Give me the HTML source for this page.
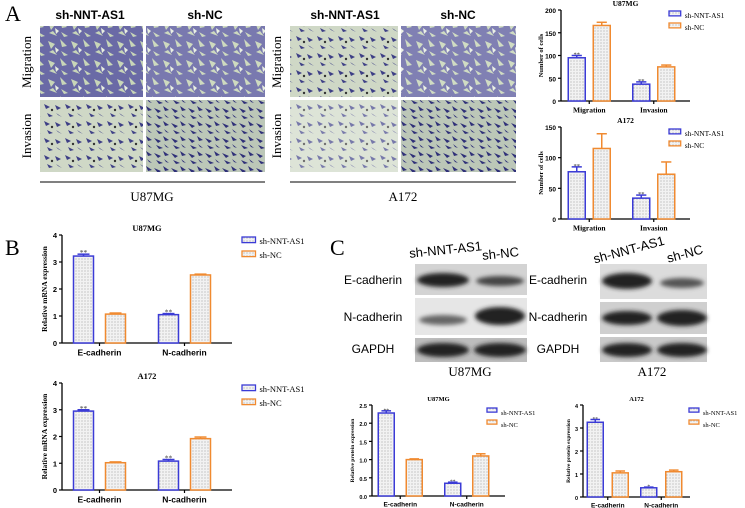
<!DOCTYPE html>
<html><head><meta charset="utf-8"><style>
body{margin:0;background:#fff;}
#root{position:relative;width:745px;height:508px;overflow:hidden;font-family:"Liberation Serif",serif;}
svg{position:absolute;left:0;top:0;}
</style></head><body>
<div id="root">
<svg id="fig" width="745" height="508" viewBox="0 0 745 508">
<defs>
<pattern id="dots" width="3" height="3" patternUnits="userSpaceOnUse"><rect width="3" height="3" fill="#f2f2f2"/><circle cx="1" cy="1" r="0.6" fill="#aaa"/></pattern>
<pattern id="migr" width="23" height="19" patternUnits="userSpaceOnUse"><rect width="23" height="19" fill="#6a6aa6"/><path d="M2 3 L9 6 L5 11 Z M14 1 L21 8 L16 9 Z M3 14 L11 17 L7 12 Z M15 13 L22 17 L18 18 Z" fill="#c8d6b8"/><path d="M9 9 L13 12 L10 15Z" fill="#e7eee0"/></pattern>
<pattern id="invas" width="21" height="17" patternUnits="userSpaceOnUse"><rect width="21" height="17" fill="#cfd8c6"/><path d="M2 2 L8 5 L4 7Z M13 3 L19 6 L15 8Z M5 11 L11 14 L7 15Z M14 11 L20 15 L16 13Z" fill="#3d3f86"/><circle cx="10" cy="8" r="1.2" fill="#333"/></pattern>
<pattern id="invas2" width="17" height="15" patternUnits="userSpaceOnUse"><rect width="17" height="15" fill="#bcc7b8"/><path d="M1 3 L8 6 L5 8Z M10 1 L16 5 L12 6Z M3 10 L10 13 L6 14Z M11 9 L16 13 L13 12Z" fill="#2f3078"/></pattern>
<filter id="blur"><feGaussianBlur stdDeviation="2"/></filter>
</defs>
<g id="panelA-images">
<text x="5" y="21" font-size="22">A</text>
<text x="90" y="19" font-size="12" font-weight="bold" text-anchor="middle" font-family="Liberation Sans, sans-serif">sh-NNT-AS1</text>
<text x="205" y="19" font-size="12" font-weight="bold" text-anchor="middle" font-family="Liberation Sans, sans-serif">sh-NC</text>
<text x="345" y="19" font-size="12" font-weight="bold" text-anchor="middle" font-family="Liberation Sans, sans-serif">sh-NNT-AS1</text>
<text x="458" y="19" font-size="12" font-weight="bold" text-anchor="middle" font-family="Liberation Sans, sans-serif">sh-NC</text>
<text transform="translate(31,62) rotate(-90)" font-size="13" text-anchor="middle">Migration</text>
<text transform="translate(31,136) rotate(-90)" font-size="13" text-anchor="middle">Invasion</text>
<text transform="translate(281,62) rotate(-90)" font-size="13" text-anchor="middle">Migration</text>
<text transform="translate(281,136) rotate(-90)" font-size="13" text-anchor="middle">Invasion</text>
<rect x="40" y="26" width="103" height="71" fill="url(#migr)"/>
<rect x="146" y="26" width="119" height="71" fill="url(#migr)" opacity="0.9"/>
<rect x="40" y="100" width="103" height="72" fill="url(#invas)"/>
<rect x="146" y="100" width="119" height="72" fill="url(#invas2)"/>
<rect x="290" y="26" width="108" height="71" fill="url(#invas)"/>
<rect x="401" y="26" width="115" height="71" fill="url(#migr)" opacity="0.85"/>
<rect x="290" y="100" width="108" height="72" fill="url(#invas)" opacity="0.7"/>
<rect x="401" y="100" width="115" height="72" fill="url(#invas2)"/>
<line x1="40" y1="182" x2="265" y2="182" stroke="#000"/>
<line x1="290" y1="182" x2="516" y2="182" stroke="#000"/>
<text x="152" y="201" font-size="13" text-anchor="middle">U87MG</text>
<text x="403" y="201" font-size="13" text-anchor="middle">A172</text>
</g>
<g id="panelC-blots">
<text x="5" y="255" font-size="22">B</text>
<text x="330" y="255" font-size="22">C</text>
<text transform="translate(446,254) rotate(-6)" font-size="13" text-anchor="middle" font-family="Liberation Sans, sans-serif">sh-NNT-AS1</text>
<text transform="translate(501,258) rotate(-6)" font-size="13" text-anchor="middle" font-family="Liberation Sans, sans-serif">sh-NC</text>
<text transform="translate(630,254) rotate(-15)" font-size="13" text-anchor="middle" font-family="Liberation Sans, sans-serif">sh-NNT-AS1</text>
<text transform="translate(686,258) rotate(-15)" font-size="13" text-anchor="middle" font-family="Liberation Sans, sans-serif">sh-NC</text>
<g font-size="12" text-anchor="middle" font-family="Liberation Sans, sans-serif">
<text x="373" y="284">E-cadherin</text>
<text x="373" y="321">N-cadherin</text>
<text x="373" y="353">GAPDH</text>
<text x="558" y="284">E-cadherin</text>
<text x="558" y="321">N-cadherin</text>
<text x="558" y="353">GAPDH</text>
</g>
<rect x="415" y="264" width="112" height="31" fill="#d3d3d3"/>
<rect x="415" y="298" width="112" height="37" fill="#e6e6e6"/>
<rect x="415" y="338" width="112" height="24" fill="#bdbdbd"/>
<rect x="600" y="264" width="107" height="35" fill="#dcdcdc"/>
<rect x="600" y="302" width="107" height="32" fill="#cfcfcf"/>
<rect x="600" y="337" width="107" height="25" fill="#c9c9c9"/>
<g filter="url(#blur)" fill="#222">
<ellipse cx="443" cy="280" rx="26" ry="7"/><ellipse cx="500" cy="281" rx="24" ry="5" fill="#444"/>
<ellipse cx="443" cy="320" rx="24" ry="5" fill="#666"/><ellipse cx="500" cy="316" rx="25" ry="9"/>
<ellipse cx="443" cy="350" rx="26" ry="7"/><ellipse cx="500" cy="350" rx="26" ry="7"/>
<ellipse cx="627" cy="281" rx="25" ry="8"/><ellipse cx="682" cy="283" rx="22" ry="5" fill="#555"/>
<ellipse cx="627" cy="318" rx="25" ry="7"/><ellipse cx="682" cy="318" rx="25" ry="8"/>
<ellipse cx="627" cy="350" rx="25" ry="7"/><ellipse cx="682" cy="350" rx="25" ry="7"/>
</g>
<text x="470" y="376" font-size="13" text-anchor="middle">U87MG</text>
<text x="652" y="376" font-size="13" text-anchor="middle">A172</text>
</g>
<g id="charts"></g>
</svg>
</div>
<script>
// ---- data ----
const catsA = ["Migration","Invasion"];
const catsB = ["E-cadherin","N-cadherin"];
const seriesNames = ["sh-NNT-AS1","sh-NC"];
const a1Nnt = [95, 37], a1Nc = [166, 75], a1NntErr = [5, 5], a1NcErr = [7, 4];
const a2Nnt = [77, 34], a2Nc = [115, 73], a2NntErr = [8, 5], a2NcErr = [24, 20];
const b1Nnt = [3.22, 1.05], b1Nc = [1.07, 2.52], b1NntErr = [0.07, 0.04], b1NcErr = [0.04, 0.03];
const b2Nnt = [2.95, 1.08], b2Nc = [1.02, 1.92], b2NntErr = [0.05, 0.06], b2NcErr = [0.03, 0.06];
const c1Nnt = [2.28, 0.35], c1Nc = [1.0, 1.1], c1NntErr = [0.06, 0.03], c1NcErr = [0.02, 0.06];
const c2Nnt = [3.25, 0.4], c2Nc = [1.05, 1.1], c2NntErr = [0.12, 0.03], c2NcErr = [0.08, 0.07];
const a1Sig = ["**","**"], a2Sig = ["**","**"], b1Sig = ["**","**"], b2Sig = ["**","**"], c1Sig = ["**","**"], c2Sig = ["*".repeat(2),"*"];
const ticksA1 = [0,50,100,150,200], ticksA2 = [0,50,100,150], ticks4 = [0,1,2,3,4], ticksC1 = [0,0.5,1.0,1.5,2.0,2.5];
const ticksC1Labels = ["0.0","0.5","1.0","1.5","2.0","2.5"];

const NS = "http://www.w3.org/2000/svg";
const root = document.getElementById("charts");
function el(tag, attrs, parent, txt){
  const e = document.createElementNS(NS, tag);
  for (const k in attrs) e.setAttribute(k, attrs[k]);
  if (txt !== undefined) e.textContent = txt;
  (parent || root).appendChild(e);
  return e;
}
const BLUE = "#3b3bd6", ORANGE = "#f08a30";
function chart(id, c){
  const g = el("g", {});
  
  
  const maxV = c.ticks[c.ticks.length-1];
  const y = v => c.yb - (v / maxV) * (c.yb - c.yt);
  const gw = (c.xe - c.x0) / c.cats.length;
  // title
  const t = el("text", {x: c.x0 + (c.xe - c.x0)/2, y: c.yt - 4, "font-size": c.fs + 1, "font-weight": "bold", "text-anchor": "middle"}, g, c.title);
  
  
  // y axis
  const ax = el("line", {x1: c.x0, y1: c.yt, x2: c.x0, y2: c.yb, stroke: "#000", "stroke-width": 1.3}, g);
  
  
  const xa = el("line", {x1: c.x0, y1: c.yb, x2: c.xe, y2: c.yb, stroke: "#000", "stroke-width": 1.3}, g);
  
  
  c.ticks.forEach((tv, i) => {
    el("line", {x1: c.x0 - 3, y1: y(tv), x2: c.x0, y2: y(tv), stroke: "#000", "stroke-width": 1.2}, g);
    const tl = el("text", {x: c.x0 - 5, y: y(tv) + 3, "font-size": c.fs, "font-weight": "bold", "text-anchor": "end", "font-family": "Liberation Sans, sans-serif"}, g, c.tickLabels ? c.tickLabels[i] : String(tv));
    
    
  });
  const yt = el("text", {transform: `translate(${c.x0 - c.ytOff},${(c.yt + c.yb)/2}) rotate(-90)`, "font-size": c.fs, "font-weight": "bold", "text-anchor": "middle"}, g, c.ytitle);
  
  
  const series = [[c.s1, c.e1, BLUE], [c.s2, c.e2, ORANGE]];
  c.cats.forEach((cat, i) => {
    const cx = c.x0 + gw * (i + 0.5) + c.shift;
    el("line", {x1: cx, y1: c.yb, x2: cx, y2: c.yb + 3, stroke: "#000", "stroke-width": 1.2}, g);
    const xl = el("text", {x: cx, y: c.yb + c.fs + 5, "font-size": c.fs + 1, "font-weight": "bold", "text-anchor": "middle", "font-family": c.xfont}, g, cat);
    
    
    series.forEach((s, j) => {
      const bx = j === 0 ? cx - c.gap/2 - c.bw : cx + c.gap/2;
      const v = s[0][i], e = s[1][i];
      const bar = el("rect", {x: bx, y: y(v), width: c.bw, height: c.yb - y(v), fill: "url(#dots)", stroke: s[2], "stroke-width": 1.5}, g);
      
      
      const mx = bx + c.bw/2;
      el("line", {x1: mx, y1: y(v), x2: mx, y2: y(v + e), stroke: s[2], "stroke-width": 1.5}, g);
      el("line", {x1: mx - c.bw*0.3, y1: y(v + e), x2: mx + c.bw*0.3, y2: y(v + e), stroke: s[2], "stroke-width": 1.5}, g);
      if (j === 0) {
        const st = el("text", {x: mx, y: y(v + e) + 1, "font-size": c.fs, "text-anchor": "middle", fill: "#333"}, g, c.sig[i]);
        
        
      }
    });
  });
  // legend
  seriesNames.forEach((n, j) => {
    const ly = c.ly + j * c.lsp;
    const sw = el("rect", {x: c.lx, y: ly - 4, width: c.fs * 1.8, height: c.fs * 0.75, fill: "url(#dots)", stroke: j ? ORANGE : BLUE, "stroke-width": 1.3}, g);
    
    
    const lt = el("text", {x: c.lx + c.fs * 1.8 + 4, y: ly + 3, "font-size": c.fs + 1}, g, n);
    
    
  });
}
chart("a-u87", {title:"U87MG", cats:catsA, s1:a1Nnt, s2:a1Nc, e1:a1NntErr, e2:a1NcErr, sig:a1Sig, ticks:ticksA1, x0:561, xe:690, yt:10, yb:101, bw:17, gap:8, shift:-4, fs:6.5, ytitle:"Number of cells", ytOff:18, lx:669, ly:15, lsp:12, xfont:"Liberation Serif, serif"});
chart("a-a172", {title:"A172", cats:catsA, s1:a2Nnt, s2:a2Nc, e1:a2NntErr, e2:a2NcErr, sig:a2Sig, ticks:ticksA2, x0:561, xe:690, yt:127, yb:219, bw:17, gap:8, shift:-4, fs:6.5, ytitle:"Number of cells", ytOff:18, lx:669, ly:133, lsp:12, xfont:"Liberation Serif, serif"});
chart("b-u87", {title:"U87MG", cats:catsB, s1:b1Nnt, s2:b1Nc, e1:b1NntErr, e2:b1NcErr, sig:b1Sig, ticks:ticks4, x0:62, xe:232, yt:235, yb:343, bw:20, gap:12, shift:-5, fs:7.5, ytitle:"Relative mRNA expression", ytOff:15, lx:242, ly:241, lsp:14, xfont:"Liberation Sans, sans-serif"});
chart("b-a172", {title:"A172", cats:catsB, s1:b2Nnt, s2:b2Nc, e1:b2NntErr, e2:b2NcErr, sig:b2Sig, ticks:ticks4, x0:62, xe:232, yt:383, yb:490, bw:20, gap:12, shift:-5, fs:7.5, ytitle:"Relative mRNA expression", ytOff:15, lx:242, ly:389, lsp:14, xfont:"Liberation Sans, sans-serif"});
chart("c-u87", {title:"U87MG", cats:catsB, s1:c1Nnt, s2:c1Nc, e1:c1NntErr, e2:c1NcErr, sig:c1Sig, ticks:ticksC1, tickLabels:ticksC1Labels, x0:372, xe:505, yt:405, yb:496, bw:16, gap:12, shift:-5, fs:5.5, ytitle:"Relative protein expression", ytOff:18, lx:487, ly:412, lsp:12, xfont:"Liberation Sans, sans-serif"});
chart("c-a172", {title:"A172", cats:catsB, s1:c2Nnt, s2:c2Nc, e1:c2NntErr, e2:c2NcErr, sig:c2Sig, ticks:ticks4, x0:583, xe:690, yt:405, yb:497, bw:16, gap:9, shift:-2, fs:5.5, ytitle:"Relative protein expression", ytOff:13, lx:689, ly:412, lsp:12, xfont:"Liberation Sans, sans-serif"});
</script>
</body></html>
